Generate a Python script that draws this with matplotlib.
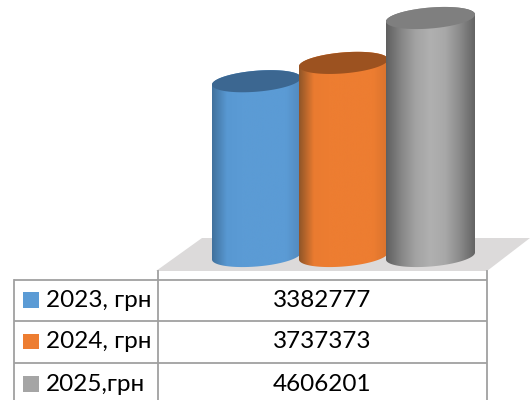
import numpy as np
import matplotlib
matplotlib.use("Agg")
import matplotlib.pyplot as plt
from matplotlib.patches import Polygon, Rectangle
from matplotlib.colors import LinearSegmentedColormap

labels = ["2023, грн", "2024, грн", "2025,грн"]
values = [3382777, 3737373, 4606201]
value_labels = ["3382777", "3737373", "4606201"]
colors = ["#5b9bd5", "#ed7d31", "#a5a5a5"]
top_colors = ["#3c6791", "#9c5220", "#7f7f7f"]
body_stops = [
    ["#41719c", "#5898d2", "#5b9bd5", "#5b9bd5", "#5b9bd5", "#5b9bd5", "#5289bd"],
    ["#8f5528", "#ea7b30", "#ed7d31", "#ed7d31", "#ed7d31", "#ed7d31", "#d9732d"],
    ["#5f5f5f", "#858585", "#a3a3a3", "#b0b0b0", "#a8a8a8", "#8a8a8a", "#646464"],
]

plt.rcParams["font.family"] = ["Lato", "Noto Sans", "DejaVu Sans"]
W, H = 530, 400
fig = plt.figure(figsize=(W / 100, H / 100), dpi=100)

# pixel overlay for floor and table
ov = fig.add_axes([0, 0, 1, 1], zorder=1)
ov.set_xlim(0, W)
ov.set_ylim(H, 0)
ov.axis("off")

# data axes: x = category index, y = value
PX_PER_CAT = 87.0
CX0 = 256.5
BASE_Y = 256.0
PX_PER_VAL = 238.0 / max(values)
ax = fig.add_axes([0, 0, 1, 1], zorder=2)
ax.patch.set_alpha(0)
xlim = ((0 - CX0) / PX_PER_CAT, (W - CX0) / PX_PER_CAT)
ylim = ((BASE_Y - H) / PX_PER_VAL, BASE_Y / PX_PER_VAL)
ax.axis("off")

ov.add_patch(Polygon([(156, 271), (202, 238), (530, 238), (487, 271)],
                     closed=True, fc="#dcdada", ec="none"))

A, B, S = 44.5, 10.5, 3.5


def ell(cat, val, t):
    dx = A * np.cos(t)
    dy = B * np.sin(t) + S * np.cos(t)
    return cat + dx / PX_PER_CAT, val + dy / PX_PER_VAL


for i, v in enumerate(values):
    tb = np.linspace(np.pi, 2 * np.pi, 80)
    xb, yb = ell(i, 0, tb)
    tt = np.linspace(0, np.pi, 80)
    xt, yt = ell(i, v, tt)
    body = Polygon(np.column_stack([np.r_[xb, xt], np.r_[yb, yt]]), closed=True,
                   fc="none", ec="none", transform=ax.transData, zorder=3 + i)
    ax.add_patch(body)
    cmap = LinearSegmentedColormap.from_list(f"c{i}", body_stops[i])
    hw = A / PX_PER_CAT
    im = ax.imshow(np.linspace(0, 1, 256)[None, :], cmap=cmap, aspect="auto",
                   extent=(i - hw, i + hw, -20 / PX_PER_VAL, v + 20 / PX_PER_VAL),
                   zorder=3 + i)
    im.set_clip_path(body)
    t = np.linspace(0, 2 * np.pi, 160)
    xe, ye = ell(i, v, t)
    ax.add_patch(Polygon(np.column_stack([xe, ye]), closed=True, fc=top_colors[i],
                         ec="none", zorder=3 + i))
ax.set_xlim(*xlim)
ax.set_ylim(*ylim)

# table
line = "#a0a0a0"
X_L, X_M, X_R = 14, 158, 487
ROWS = [279.5, 321, 362.5, 406]
for y in ROWS[:3]:
    ov.plot([X_L, X_R], [y, y], color=line, lw=1.3, solid_capstyle="butt")
ov.plot([X_L, X_L], [ROWS[0], H], color=line, lw=1.3)
ov.plot([X_M, X_M], [271, H], color=line, lw=1.3)
ov.plot([X_R, X_R], [271, H], color=line, lw=1.3)
for k, (lab, val, c) in enumerate(zip(labels, value_labels, colors)):
    yc = (ROWS[k] + ROWS[k + 1]) / 2
    ov.add_patch(Rectangle((23, yc - 8), 15.5, 15.5, fc=c, ec="none"))
    ov.text(46, yc, lab, fontsize=17.5, va="center", ha="left", color="black")
    ov.text(322.5, yc, val, fontsize=17.5, va="center", ha="center", color="black")

fig.savefig("out.png", dpi=100)
